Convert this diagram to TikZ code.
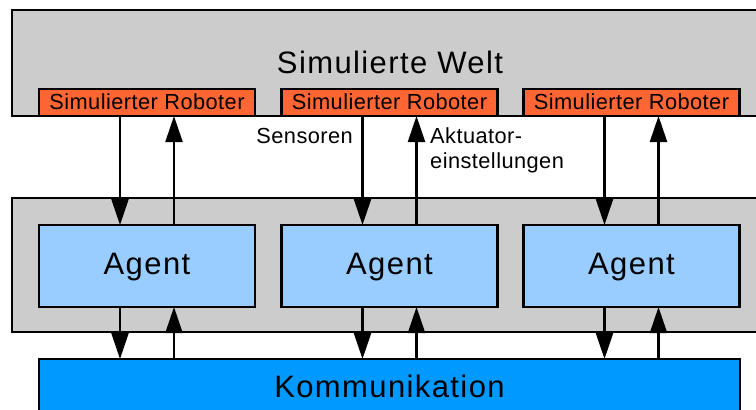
\documentclass[tikz,border=0pt]{standalone}
\usepackage{fontspec}
\setmainfont{Liberation Sans}
\newfontfamily\bigfont[LetterSpace=4.5]{Liberation Sans}
\newfontfamily\smallfont[LetterSpace=2]{Liberation Sans}
\usetikzlibrary{arrows.meta}

\definecolor{worldgray}{HTML}{CCCCCC}
\definecolor{robotorange}{HTML}{FF6633}
\definecolor{agentblue}{HTML}{99CCFF}
\definecolor{commblue}{HTML}{0099FF}

\tikzset{
  x=1pt, y=-1pt,
  frame/.style={draw=black, line width=2.7pt, inner sep=0pt, outer sep=0pt},
  robotbox/.style={frame, fill=robotorange, minimum width=216pt, minimum height=27pt},
  agentbox/.style={frame, fill=agentblue, minimum width=216pt, minimum height=82pt},
  bigtext/.style={inner sep=0pt, anchor=base, font=\bigfont\fontsize{31}{37}\selectfont},
  smalltext/.style={inner sep=0pt, anchor=base, font=\smallfont\fontsize{21.8}{25}\selectfont},
  flow/.style={line width=2.2pt, -{Triangle[length=26pt,width=17pt]}},
}

\begin{document}
\begin{tikzpicture}
  \useasboundingbox (0,0) rectangle (756,410);

  % simulated world with its robots
  \node[frame, fill=worldgray, minimum width=768pt, minimum height=106pt] (world) at (396,63) {};
  \node[bigtext] (worldlbl) at (390,73) {Simulierte Welt};

  \node[robotbox] (rob1) at (147,102.5) {};
  \node[robotbox] (rob2) at (389.5,102.5) {};
  \node[robotbox] (rob3) at (631.5,102.5) {};
  \node[smalltext] (rob1lbl) at (147,109) {Simulierter Roboter};
  \node[smalltext] (rob2lbl) at (389.5,109) {Simulierter Roboter};
  \node[smalltext] (rob3lbl) at (631.5,109) {Simulierter Roboter};

  % agent layer
  \node[draw=black, line width=1.2pt, fill=worldgray, inner sep=0pt,
        minimum width=768pt, minimum height=134pt] (agents) at (396,265) {};
  \node[agentbox] (ag1) at (147,266) {};
  \node[agentbox] (ag2) at (389.5,266) {};
  \node[agentbox] (ag3) at (631.5,266) {};
  \node[bigtext] (ag1lbl) at (147,274) {Agent};
  \node[bigtext] (ag2lbl) at (389.5,274) {Agent};
  \node[bigtext] (ag3lbl) at (631.5,274) {Agent};

  % communication layer
  \node[frame, fill=commblue, minimum width=701pt, minimum height=58pt] (comm) at (389.5,388) {};
  \node[bigtext] (commlbl) at (389.5,397) {Kommunikation};

  % sensor and actuator flows, agent <-> communication flows
  \foreach \i in {1,2,3}{
    \draw[flow] ([xshift=-27pt]rob\i.south) -- ([xshift=-27pt]ag\i.north);
    \draw[flow] ([xshift=27pt]ag\i.north) -- ([xshift=27pt]rob\i.south);
    \draw[flow] ([xshift=-27pt]ag\i.south) -- ([xshift=-27pt]comm.north -| ag\i.south);
    \draw[flow] ([xshift=27pt]comm.north -| ag\i.south) -- ([xshift=27pt]ag\i.south);
  }

  % flow labels
  \node[smalltext, anchor=base east] (sens) at (353,143) {Sensoren};
  \node[smalltext, anchor=base west] (akt1) at (430,143) {Aktuator-};
  \node[smalltext, anchor=base west] (akt2) at (430,168) {einstellungen};
\end{tikzpicture}
\end{document}
